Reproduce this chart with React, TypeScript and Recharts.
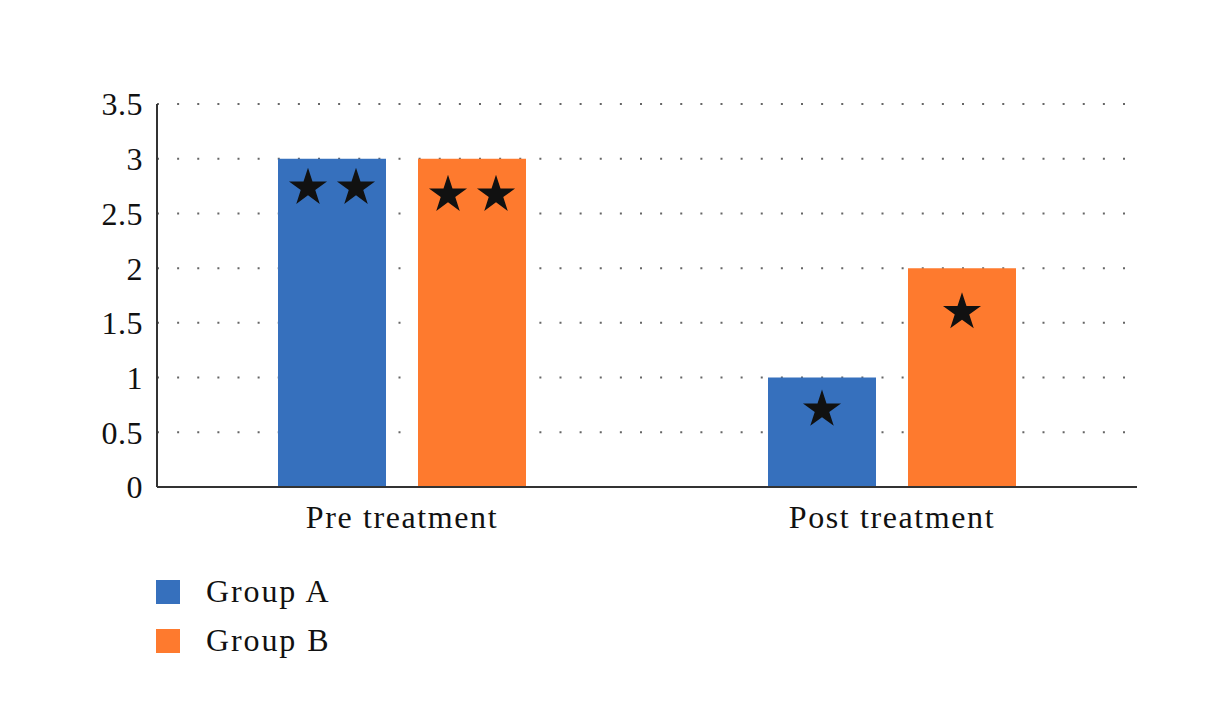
import React from "react";
import {
  BarChart,
  Bar,
  XAxis,
  YAxis,
  CartesianGrid,
  Legend,
  LabelList,
} from "recharts";

const categories = ["Pre treatment", "Post treatment"];
const groupA = [3, 1];
const groupB = [3, 2];
// number of significance stars drawn inside each bar
const starsA = [2, 1];
const starsB = [2, 1];
const yTicks = [0, 0.5, 1, 1.5, 2, 2.5, 3, 3.5];

const BLUE = "#3670BD";
const ORANGE = "#FE7A2E";
const FONT = "'Liberation Serif', 'Times New Roman', serif";

// distance from bar top to star centre, per series / category
const STAR_DY_A = [29, 32];
const STAR_DY_B = [36, 44];

const chartData = categories.map((name, i) => ({
  name,
  a: groupA[i],
  b: groupB[i],
  aStars: starsA[i],
  bStars: starsB[i],
}));

const starPath = (cx: number, cy: number, r: number) => {
  const inner = r * 0.382;
  const pts: string[] = [];
  for (let k = 0; k < 10; k++) {
    const rad = k % 2 === 0 ? r : inner;
    const ang = -Math.PI / 2 + (k * Math.PI) / 5;
    pts.push(`${cx + rad * Math.cos(ang)},${cy + rad * Math.sin(ang)}`);
  }
  return `M${pts.join("L")}Z`;
};

const makeStars = (offsets: number[]) => (props: any) => {
  const { x, y, width, value, index } = props;
  const count = Number(value) || 0;
  const cx = Number(x) + Number(width) / 2;
  const cy = Number(y) + offsets[index];
  const xs = count === 2 ? [cx - 24, cx + 24] : [cx];
  return (
    <g>
      {xs.map((sx, k) => (
        <path key={k} d={starPath(sx, cy, 20)} fill="#111" />
      ))}
    </g>
  );
};

const LegendBox = () => (
  <div style={{ fontFamily: FONT, fontSize: 32, color: "#111", height: 100 }}>
    {[
      { label: "Group A", color: BLUE },
      { label: "Group B", color: ORANGE },
    ].map((item) => (
      <div
        key={item.label}
        style={{ display: "flex", alignItems: "center", height: 49 }}
      >
        <span
          style={{
            display: "inline-block",
            width: 24,
            height: 24,
            marginLeft: 156,
            marginRight: 26,
            background: item.color,
          }}
        />
        <span style={{ letterSpacing: 1.9 }}>{item.label}</span>
      </div>
    ))}
  </div>
);

const tickStyle = {
  fontFamily: FONT,
  fontSize: 32,
  fill: "#111",
  letterSpacing: 1.6,
};

export default function App() {
  return (
    <div style={{ position: "absolute", left: 0, top: 0, background: "#fff" }}>
      <BarChart
        width={1232}
        height={722}
        data={chartData}
        margin={{ top: 104, right: 95, left: 0, bottom: 75 }}
        barGap={32}
      >
        <CartesianGrid
          vertical={false}
          stroke="#666"
          strokeWidth={2}
          strokeDasharray="2 18.125"
        />
        <XAxis
          dataKey="name"
          height={60}
          tickLine={false}
          tickSize={0}
          tickMargin={18}
          axisLine={{ stroke: "#333", strokeWidth: 2 }}
          tick={tickStyle}
        />
        <YAxis
          width={157}
          domain={[0, 3.5]}
          ticks={yTicks}
          tickLine={false}
          tickSize={0}
          tickMargin={14}
          axisLine={{ stroke: "#333", strokeWidth: 2 }}
          tick={{ ...tickStyle, letterSpacing: 0.5 }}
        />
        <Legend
          verticalAlign="bottom"
          align="left"
          content={<LegendBox />}
          wrapperStyle={{ top: 567, left: 0 }}
        />
        <Bar dataKey="a" name="Group A" fill={BLUE} barSize={108} isAnimationActive={false}>
          <LabelList dataKey="aStars" content={makeStars(STAR_DY_A)} />
        </Bar>
        <Bar dataKey="b" name="Group B" fill={ORANGE} barSize={108} isAnimationActive={false}>
          <LabelList dataKey="bStars" content={makeStars(STAR_DY_B)} />
        </Bar>
      </BarChart>
    </div>
  );
}
